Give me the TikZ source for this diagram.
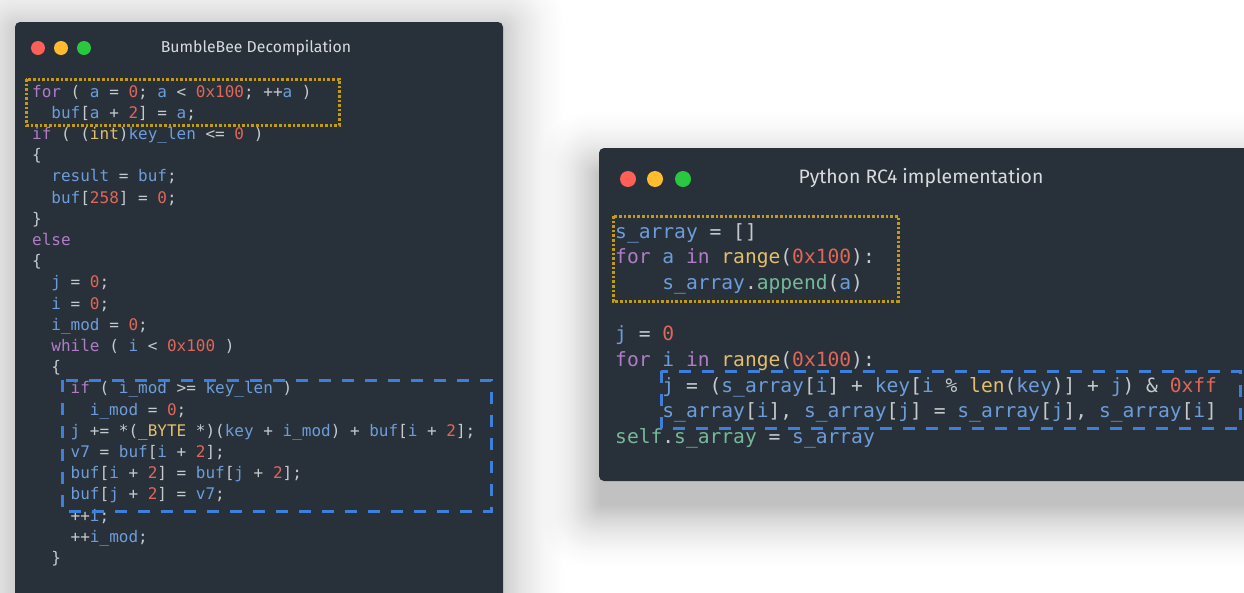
\documentclass[tikz,border=0pt]{standalone}
\usepackage{fontspec}
\newfontfamily\codefont{DejaVu Sans Mono}
\newfontfamily\titlefont{Fira Sans}
\definecolor{winbg}{HTML}{283139}
\definecolor{punct}{HTML}{C5C9CC}
\definecolor{kwc}{HTML}{B07CC8}
\definecolor{idc}{HTML}{6C9DDA}
\definecolor{numc}{HTML}{E0665A}
\definecolor{tyc}{HTML}{E3BE6C}
\definecolor{fnc}{HTML}{76B99A}
\definecolor{titlec}{HTML}{D8DBDE}
\definecolor{dotc}{HTML}{C49A12}
\definecolor{dashc}{HTML}{3F7FD9}
\definecolor{redl}{HTML}{FE5F57}
\definecolor{yell}{HTML}{FEBC2E}
\definecolor{grnl}{HTML}{28C840}
\newcommand\kw[1]{\textcolor{kwc}{#1}}
\newcommand\id[1]{\textcolor{idc}{#1}}
\newcommand\nm[1]{\textcolor{numc}{#1}}
\newcommand\ty[1]{\textcolor{tyc}{#1}}
\newcommand\fn[1]{\textcolor{fnc}{#1}}
\def\cwL{9.63}
\def\xL{32}
\def\cwR{11.8}
\def\xR{615}
\tikzset{
  codeL/.style={anchor=base west, inner sep=0, text=punct, font=\codefont\fontsize{16}{19}\selectfont\frenchspacing},
  codeR/.style={anchor=base west, inner sep=0, text=punct, font=\codefont\fontsize{19.6}{23}\selectfont\frenchspacing},
  win/.style={fill=winbg, rounded corners=5pt},
  lightL/.style={circle, inner sep=0, minimum size=14pt},
  lightR/.style={circle, inner sep=0, minimum size=16pt},
  dotbox/.style={draw=dotc, line width=3pt, dash pattern=on 2.6pt off 2pt},
  dashbox/.style={draw=dashc, line width=3pt, dash pattern=on 12pt off 11pt},
  titleL/.style={text=titlec, font=\titlefont\fontsize{15.8}{18}\selectfont, inner sep=0},
  titleR/.style={text=titlec, font=\titlefont\fontsize{19.4}{22}\selectfont, inner sep=0}
}
\begin{document}
\begin{tikzpicture}[x=1pt,y=-1pt]
\useasboundingbox (0,0) rectangle (1244,592);
\clip (0,0) rectangle (1244,592);
\fill[white] (0,0) rectangle (1244,592);
\begin{scope}[blend mode=multiply]
% left window shadow
\foreach \k in {0,...,24} {
  \pgfmathsetmacro\d{60-\k*2.5}
  \pgfmathsetmacro\c{0.2+0.045*\k}
  \fill[black!\c, rounded corners={\d*0.8+4}] ({15-\d},{28-\d}) rectangle ({503+\d},{650+\d});
}
% right window shadow
\foreach \k in {0,...,24} {
  \pgfmathsetmacro\d{60-\k*2.5}
  \pgfmathsetmacro\c{0.25+0.058*\k}
  \fill[black!\c, rounded corners={\d*0.8+4}] ({599-\d},{173-\d}) rectangle ({1300+\d},{506+\d});
}
\end{scope}
% left window
\fill[win] (15,22) rectangle (503,640);
\node[lightL, fill=redl] (lr) at (38,48) {};
\node[lightL, fill=yell] (ly) at (61,48) {};
\node[lightL, fill=grnl] (lg) at (84,48) {};
\node[titleL] (lt) at (256,48) {BumbleBee Decompilation};
% right window
\fill[win] (599,148) rectangle (1290,481);
\node[lightR, fill=redl] (rr) at (628,179) {};
\node[lightR, fill=yell] (ry) at (655,179) {};
\node[lightR, fill=grnl] (rg) at (683,179) {};
\node[titleR] (rt) at (921,178) {Python RC4 implementation};
% left code
\node[codeL] (L1) at ({\xL+0*\cwL},{97+0*21.2}) {\kw{for} ( \id{a} = \nm{0}; \id{a} < \nm{0x100}; ++\id{a} )};
\node[codeL] (L2) at ({\xL+2*\cwL},{97+1*21.2}) {\id{buf}[\id{a} + \nm{2}] = \id{a};};
\node[codeL] (L3) at ({\xL+0*\cwL},{97+2*21.2}) {\kw{if} ( (\ty{int})\id{key\_len} <= \nm{0} )};
\node[codeL] (L4) at ({\xL+0*\cwL},{97+3*21.2}) {\{};
\node[codeL] (L5) at ({\xL+2*\cwL},{97+4*21.2}) {\id{result} = \id{buf};};
\node[codeL] (L6) at ({\xL+2*\cwL},{97+5*21.2}) {\id{buf}[\nm{258}] = \nm{0};};
\node[codeL] (L7) at ({\xL+0*\cwL},{97+6*21.2}) {\}};
\node[codeL] (L8) at ({\xL+0*\cwL},{97+7*21.2}) {\kw{else}};
\node[codeL] (L9) at ({\xL+0*\cwL},{97+8*21.2}) {\{};
\node[codeL] (L10) at ({\xL+2*\cwL},{97+9*21.2}) {\id{j} = \nm{0};};
\node[codeL] (L11) at ({\xL+2*\cwL},{97+10*21.2}) {\id{i} = \nm{0};};
\node[codeL] (L12) at ({\xL+2*\cwL},{97+11*21.2}) {\id{i\_mod} = \nm{0};};
\node[codeL] (L13) at ({\xL+2*\cwL},{97+12*21.2}) {\kw{while} ( \id{i} < \nm{0x100} )};
\node[codeL] (L14) at ({\xL+2*\cwL},{97+13*21.2}) {\{};
\node[codeL] (L15) at ({\xL+4*\cwL},{97+14*21.2}) {\kw{if} ( \id{i\_mod} >= \id{key\_len} )};
\node[codeL] (L16) at ({\xL+6*\cwL},{97+15*21.2}) {\id{i\_mod} = \nm{0};};
\node[codeL] (L17) at ({\xL+4*\cwL},{97+16*21.2}) {\id{j} += *(\ty{\_BYTE} *)(\id{key} + \id{i\_mod}) + \id{buf}[\id{i} + \nm{2}];};
\node[codeL] (L18) at ({\xL+4*\cwL},{97+17*21.2}) {\id{v7} = \id{buf}[\id{i} + \nm{2}];};
\node[codeL] (L19) at ({\xL+4*\cwL},{97+18*21.2}) {\id{buf}[\id{i} + \nm{2}] = \id{buf}[\id{j} + \nm{2}];};
\node[codeL] (L20) at ({\xL+4*\cwL},{97+19*21.2}) {\id{buf}[\id{j} + \nm{2}] = \id{v7};};
\node[codeL] (L21) at ({\xL+4*\cwL},{97+20*21.2}) {++\id{i};};
\node[codeL] (L22) at ({\xL+4*\cwL},{97+21*21.2}) {++\id{i\_mod};};
\node[codeL] (L23) at ({\xL+2*\cwL},{97+22*21.2}) {\}};
% right code
\node[codeR] (R1) at ({\xR+0*\cwR},{238+0*25.7}) {\id{s\_array} = []};
\node[codeR] (R2) at ({\xR+0*\cwR},{238+1*25.7}) {\kw{for} \id{a} \kw{in} \ty{range}(\nm{0x100}):};
\node[codeR] (R3) at ({\xR+4*\cwR},{238+2*25.7}) {\id{s\_array}.\fn{append}(\id{a})};
\node[codeR] (R5) at ({\xR+0*\cwR},{238+4*25.7}) {\id{j} = \nm{0}};
\node[codeR] (R6) at ({\xR+0*\cwR},{238+5*25.7}) {\kw{for} \id{i} \kw{in} \ty{range}(\nm{0x100}):};
\node[codeR] (R7) at ({\xR+4*\cwR},{238+6*25.7}) {\id{j} = (\id{s\_array}[\id{i}] + \id{key}[\id{i} \% \ty{len}(\id{key})] + \id{j}) \& \nm{0xff}};
\node[codeR] (R8) at ({\xR+4*\cwR},{238+7*25.7}) {\id{s\_array}[\id{i}], \id{s\_array}[\id{j}] = \id{s\_array}[\id{j}], \id{s\_array}[\id{i}]};
\node[codeR] (R9) at ({\xR+0*\cwR},{238+8*25.7}) {\fn{self}.\fn{s\_array} = \id{s\_array}};
% highlight boxes
\draw[dotbox] (26,79) rectangle (339,125);
\draw[dashbox] (62,380) rectangle (491,511);
\draw[dotbox] (613,216) rectangle (898,301);
\draw[dashbox] (661,371) rectangle (1240,428);
\end{tikzpicture}
\end{document}
